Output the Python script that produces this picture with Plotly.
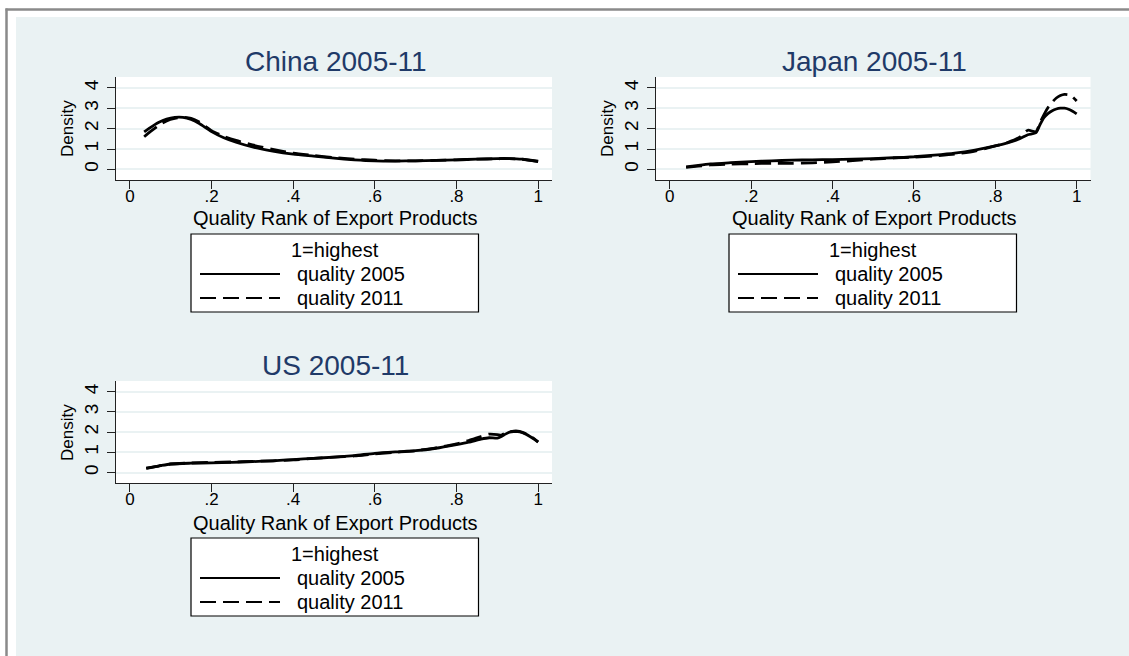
import plotly.graph_objects as go

W, H = 1129, 656

# ---- data: kernel density of export quality rank (1 = highest quality) ----
china_x = [0.035, 0.05, 0.07, 0.09, 0.11, 0.13, 0.15, 0.17, 0.20, 0.23, 0.26, 0.30,
           0.35, 0.40, 0.45, 0.50, 0.55, 0.60, 0.65, 0.70, 0.75, 0.80, 0.85, 0.90,
           0.93, 0.96, 1.00]
china_2005 = [1.84, 2.05, 2.30, 2.47, 2.55, 2.55, 2.45, 2.25, 1.85, 1.55, 1.33, 1.10,
              0.90, 0.75, 0.65, 0.55, 0.47, 0.42, 0.41, 0.42, 0.44, 0.47, 0.50, 0.53,
              0.53, 0.50, 0.38]
china_2011 = [1.60, 1.85, 2.15, 2.38, 2.50, 2.55, 2.50, 2.32, 1.90, 1.62, 1.42, 1.20,
              0.98, 0.80, 0.68, 0.58, 0.50, 0.45, 0.42, 0.42, 0.44, 0.47, 0.50, 0.52,
              0.53, 0.50, 0.40]

japan_x = [0.04, 0.07, 0.10, 0.15, 0.20, 0.25, 0.30, 0.35, 0.40, 0.45, 0.50, 0.55,
           0.60, 0.65, 0.70, 0.75, 0.80, 0.83, 0.86, 0.88, 0.90, 0.91, 0.92, 0.93,
           0.94, 0.95, 0.96, 0.97, 0.98, 0.99, 1.00]
japan_2005 = [0.12, 0.20, 0.27, 0.33, 0.38, 0.42, 0.45, 0.47, 0.48, 0.50, 0.53, 0.57,
              0.62, 0.70, 0.80, 0.95, 1.15, 1.30, 1.50, 1.70, 1.80, 2.20, 2.55, 2.75,
              2.88, 2.96, 3.00, 3.00, 2.95, 2.85, 2.72]
japan_2011 = [0.10, 0.16, 0.22, 0.26, 0.28, 0.30, 0.30, 0.32, 0.37, 0.43, 0.50, 0.56,
              0.60, 0.66, 0.75, 0.90, 1.15, 1.32, 1.58, 1.92, 1.85, 2.30, 2.70, 3.05,
              3.30, 3.50, 3.62, 3.68, 3.66, 3.55, 3.35]

us_x = [0.04, 0.07, 0.10, 0.15, 0.20, 0.25, 0.30, 0.35, 0.40, 0.45, 0.50, 0.55,
        0.60, 0.65, 0.70, 0.75, 0.80, 0.83, 0.86, 0.88, 0.90, 0.91, 0.92, 0.93,
        0.94, 0.95, 0.96, 0.97, 0.98, 0.99, 1.00]
us_2005 = [0.22, 0.32, 0.42, 0.46, 0.48, 0.50, 0.54, 0.58, 0.64, 0.70, 0.76, 0.84,
           0.95, 1.02, 1.08, 1.20, 1.38, 1.50, 1.65, 1.72, 1.70, 1.78, 1.90, 2.00,
           2.03, 2.02, 1.98, 1.90, 1.78, 1.65, 1.50]
us_2011 = [0.20, 0.32, 0.42, 0.47, 0.50, 0.52, 0.55, 0.58, 0.62, 0.70, 0.76, 0.82,
           0.92, 1.00, 1.08, 1.22, 1.42, 1.58, 1.78, 1.90, 1.88, 1.85, 1.95, 2.02,
           2.05, 2.05, 2.00, 1.92, 1.80, 1.68, 1.52]

panel_titles = ["China 2005-11", "Japan 2005-11", "US 2005-11"]
x_tickvals = [0, 0.2, 0.4, 0.6, 0.8, 1]
x_ticktext = ["0", ".2", ".4", ".6", ".8", "1"]
y_tickvals = [0, 1, 2, 3, 4]
x_title = "Quality Rank of Export Products"
y_title = "Density"
legend_title = "1=highest"
legend_labels = ["quality 2005", "quality 2011"]

BG = "#EAF2F3"
NAVY = "#1f3a68"
FONT = "Liberation Sans, Arial, sans-serif"
DASH = "16px,7px"

# panel boxes in pixels: (left, top, right, bottom)
boxes = [(116, 77, 552, 180), (656, 77, 1090.5, 180), (116, 381, 552, 483)]
series = [(china_x, china_2005, china_2011),
          (japan_x, japan_2005, japan_2011),
          (us_x, us_2005, us_2011)]


def px(x):
    return x / W


def py(y):
    return 1 - y / H


fig = go.Figure()
layout_axes = {}
annotations = []
shapes = []

for i, ((l, t, r, b), (xs, y05, y11), title) in enumerate(zip(boxes, series, panel_titles)):
    n = "" if i == 0 else str(i + 1)
    xa, ya = "x" + n, "y" + n
    fig.add_trace(go.Scatter(x=xs, y=y05, mode="lines", xaxis=xa, yaxis=ya,
                             line=dict(color="black", width=2.8, shape="spline", smoothing=0.6),
                             name=legend_labels[0], showlegend=False))
    fig.add_trace(go.Scatter(x=xs, y=y11, mode="lines", xaxis=xa, yaxis=ya,
                             line=dict(color="black", width=2.8, dash=DASH, shape="spline", smoothing=0.6),
                             name=legend_labels[1], showlegend=False))
    layout_axes["xaxis" + n] = dict(
        domain=[px(l), px(r)], anchor=ya, range=[-0.034, 1.034],
        tickvals=x_tickvals, ticktext=x_ticktext, ticks="outside", ticklen=8,
        tickwidth=1.3, tickcolor="#222", showline=True, linecolor="#222", linewidth=1.3,
        showgrid=False, zeroline=False, ticklabelstandoff=-8,
        tickfont=dict(family=FONT, size=17, color="black"), fixedrange=True)
    layout_axes["yaxis" + n] = dict(
        domain=[py(b), py(t)], anchor=xa, range=[-0.52, 4.53],
        tickvals=y_tickvals, ticks="outside", ticklen=8, tickwidth=1.3, tickcolor="#222",
        showline=True, linecolor="#222", linewidth=1.3, showgrid=True, gridcolor=BG,
        gridwidth=1.6, zeroline=False, tickangle=-90, ticklabelstandoff=1,
        tickfont=dict(family=FONT, size=19, color="black"), fixedrange=True)

    cx = (l + r) / 2 + 1.5
    dy = t - 77
    # subplot title
    annotations.append(dict(text=title, x=px(cx), y=py(61 + dy), xref="paper", yref="paper",
                            showarrow=False, xanchor="center", yanchor="middle",
                            font=dict(family=FONT, size=28, color=NAVY)))
    # axis titles
    annotations.append(dict(text=x_title, x=px(cx), y=py(218.5 + dy), xref="paper", yref="paper",
                            showarrow=False, xanchor="center", yanchor="middle",
                            font=dict(family=FONT, size=20, color="black")))
    annotations.append(dict(text=y_title, x=px(l - 48.5), y=py(128.5 + dy), xref="paper",
                            yref="paper", showarrow=False, xanchor="center", yanchor="middle",
                            textangle=-90, font=dict(family=FONT, size=17, color="black")))

    # legend box
    bl = l + 75 if i != 1 else l + 73
    bt, br, bb = 234 + dy, bl + 287.5, 312 + dy
    shapes.append(dict(type="rect", xref="paper", yref="paper", x0=px(bl), x1=px(br),
                       y0=py(bb), y1=py(bt), line=dict(color="black", width=1.2),
                       fillcolor="white", layer="above"))
    annotations.append(dict(text=legend_title, x=px((bl + br) / 2), y=py(250 + dy), xref="paper",
                            yref="paper", showarrow=False, xanchor="center", yanchor="middle",
                            font=dict(family=FONT, size=20, color="black")))
    for k, (lab, dash) in enumerate(zip(legend_labels, ["solid", DASH])):
        yy = 274 + 24 * k + dy
        shapes.append(dict(type="line", xref="paper", yref="paper", x0=px(bl + 9), x1=px(bl + 89),
                           y0=py(yy), y1=py(yy), line=dict(color="black", width=2, dash=dash),
                           layer="above"))
        annotations.append(dict(text=lab, x=px(bl + 104), y=py(yy), xref="paper", yref="paper",
                                showarrow=False, xanchor="left", yanchor="middle",
                                font=dict(family=FONT, size=20, color="black")))

# white page strips and the grey frame around the graph region
shapes += [
    dict(type="rect", xref="paper", yref="paper", x0=0, x1=1, y0=py(17), y1=1,
         fillcolor="white", line=dict(width=0), layer="above"),
    dict(type="rect", xref="paper", yref="paper", x0=0, x1=px(16), y0=0, y1=1,
         fillcolor="white", line=dict(width=0), layer="above"),
    dict(type="line", xref="paper", yref="paper", x0=px(5.5), x1=1, y0=py(9.5), y1=py(9.5),
         line=dict(color="#8a8a8a", width=2.5), layer="above"),
    dict(type="line", xref="paper", yref="paper", x0=px(6.5), x1=px(6.5), y0=0, y1=py(8.5),
         line=dict(color="#8a8a8a", width=2.5), layer="above"),
]

fig.update_layout(
    width=W, height=H, margin=dict(l=0, r=0, t=0, b=0),
    paper_bgcolor=BG, plot_bgcolor="white", showlegend=False,
    annotations=annotations, shapes=shapes, **layout_axes)

fig.write_html("out.html", config={"displayModeBar": False})
